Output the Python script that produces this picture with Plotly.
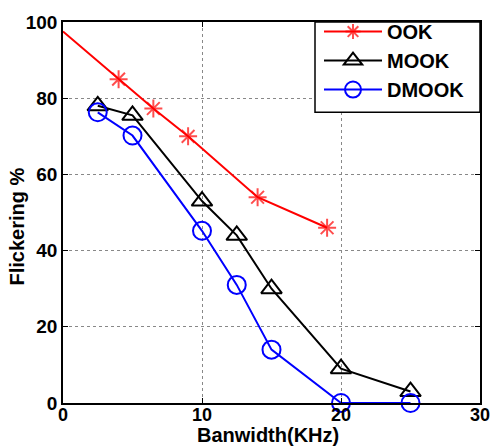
import plotly.graph_objects as go

ook_x = [0, 4, 6.5, 9, 14, 19]
ook_y = [97.5, 85, 77.3, 70, 54, 46]
ook_marker = [0, 15, 15, 15, 15, 15]

mook_x = [2.5, 5, 10, 12.5, 15, 20, 25]
mook_y = [78, 75.5, 53, 44, 30, 9, 3]

dmook_x = [2.5, 5, 10, 12.5, 15, 20, 25]
dmook_y = [76.3, 70.2, 45.2, 31, 14, 0, 0]

x_ticks = [0, 10, 20, 30]
y_ticks = [0, 20, 40, 60, 80, 100]

FONT = "Liberation Sans, Arial, sans-serif"

fig = go.Figure()
fig.add_trace(go.Scatter(
    x=ook_x, y=ook_y, name="OOK", mode="lines+markers", cliponaxis=False,
    line=dict(color="#ff0000", width=2),
    marker=dict(symbol="asterisk-open", size=ook_marker, color="#ff0000",
                line=dict(color="#ff0000", width=2))))
fig.add_trace(go.Scatter(
    x=mook_x, y=mook_y, name="MOOK", mode="lines+markers", cliponaxis=False,
    line=dict(color="#000000", width=2),
    marker=dict(symbol="triangle-up-open", size=18, color="#000000",
                line=dict(color="#000000", width=2))))
fig.add_trace(go.Scatter(
    x=dmook_x, y=dmook_y, name="DMOOK", mode="lines+markers", cliponaxis=False,
    line=dict(color="#0000ff", width=2),
    marker=dict(symbol="circle-open", size=18, color="#0000ff",
                line=dict(color="#0000ff", width=2))))

axis_common = dict(
    showline=True, linecolor="black", linewidth=1.5, mirror="ticks",
    ticks="inside", ticklen=5, tickcolor="black", tickwidth=1,
    showgrid=True, gridcolor="#888888", griddash="dot", gridwidth=1,
    zeroline=False, automargin=False,
    tickfont=dict(family=FONT, size=19, color="black", weight="bold"),
)

fig.update_xaxes(range=[0, 30], tickvals=x_ticks, ticklabelstandoff=-5,
                 **{**axis_common,
                    "tickfont": dict(family=FONT, size=18, color="black", weight="bold")})
fig.update_yaxes(range=[0, 100], tickvals=y_ticks, **axis_common)

# axis titles as annotations for exact placement
fig.add_annotation(text="Banwidth(KHz)", xref="paper", yref="paper", x=0.5, y=0,
                   xanchor="center", yanchor="middle", xshift=-4, yshift=-32,
                   showarrow=False, borderpad=0,
                   font=dict(family=FONT, size=20, color="black", weight="bold"))
fig.add_annotation(text="Flickering %", xref="paper", yref="paper", x=0, y=0.5,
                   xanchor="center", yanchor="middle", xshift=-47, yshift=-14,
                   textangle=-90, showarrow=False,
                   font=dict(family=FONT, size=20, color="black", weight="bold"))

# legend box
fig.add_shape(type="rect", xref="paper", yref="paper",
              x0=(315 - 63) / 417, x1=1, y0=(403 - 110.7) / 383, y1=1,
              fillcolor="white", line=dict(color="black", width=1.5), layer="above")

fig.update_layout(
    width=492, height=447,
    margin=dict(l=63, r=12, t=20, b=44),
    paper_bgcolor="white", plot_bgcolor="white",
    showlegend=True,
    legend=dict(x=(319 - 63) / 417, y=1 + 10 / 383, xanchor="left", yanchor="top",
                bgcolor="rgba(0,0,0,0)", borderwidth=0,
                font=dict(family=FONT, size=20, color="black", weight="bold"),
                tracegroupgap=0, itemsizing="trace", itemwidth=58),
)

fig.write_html("out.html")
